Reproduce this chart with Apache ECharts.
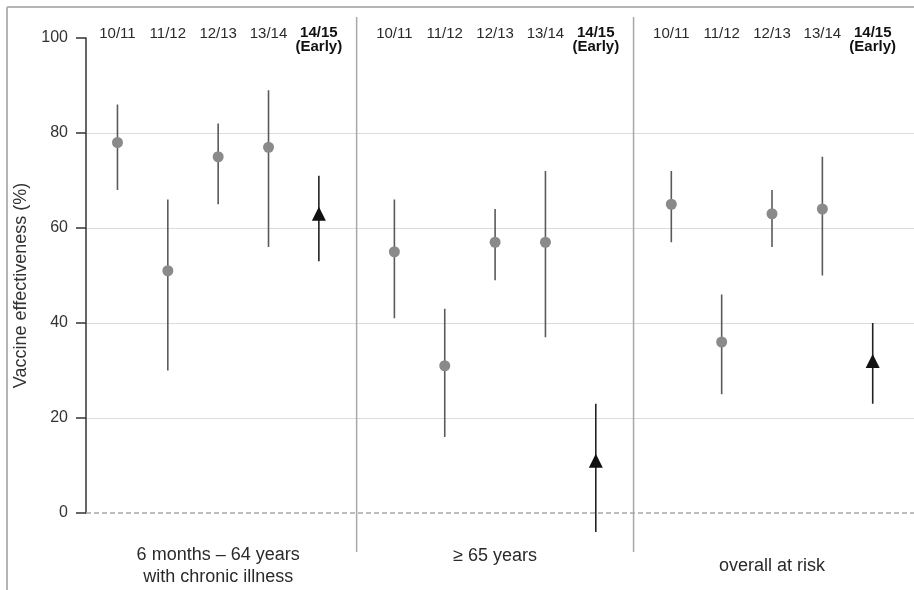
<!DOCTYPE html>
<html>
<head>
<meta charset="utf-8">
<script src="https://cdn.jsdelivr.net/npm/echarts@6/dist/echarts.min.js"></script>
<style>
html,body{margin:0;padding:0;background:#fff;}
#chart{width:914px;height:590px;}
</style>
</head>
<body>
<div id="chart"></div>
<script>
// ---- data ----
const seasons = ['10/11', '11/12', '12/13', '13/14', '14/15'];
const earlyNote = '(Early)';
const groups = ['6 months – 64 years\nwith chronic illness', '≥ 65 years', 'overall at risk'];

const veChronic = [78, 51, 75, 77, 63];
const loChronic = [68, 30, 65, 56, 53];
const hiChronic = [86, 66, 82, 89, 71];

const veElderly = [55, 31, 57, 57, 11];
const loElderly = [41, 16, 49, 37, -4];
const hiElderly = [66, 43, 64, 72, 23];

const veOverall = [65, 36, 63, 64, 32];
const loOverall = [57, 25, 56, 50, 23];
const hiOverall = [72, 46, 68, 75, 40];

const yTicks = [0, 20, 40, 60, 80, 100];

// ---- build ----
const GROUP_STEP = 5.5;
const est = [veChronic, veElderly, veOverall];
const lo = [loChronic, loElderly, loOverall];
const hi = [hiChronic, hiElderly, hiOverall];
const earlyIdx = seasons.length - 1;

const barData = [], dotData = [], triData = [];
for (let g = 0; g < groups.length; g++) {
  for (let i = 0; i < seasons.length; i++) {
    const x = g * GROUP_STEP + i;
    const early = i === earlyIdx ? 1 : 0;
    barData.push([x, lo[g][i], hi[g][i], early]);
    if (early) triData.push([x, est[g][i]]); else dotData.push([x, est[g][i]]);
  }
}
const dividerData = [];
for (let g = 1; g < groups.length; g++) {
  dividerData.push([((g - 1) * GROUP_STEP + earlyIdx + g * GROUP_STEP) / 2]);
}

function near(a, b) { return Math.abs(a - b) < 1e-6; }
function topLabel(v) {
  for (let g = 0; g < groups.length; g++)
    for (let i = 0; i < seasons.length; i++)
      if (near(v, g * GROUP_STEP + i))
        return i === earlyIdx ? '{b|' + seasons[i] + '}\n{b|' + earlyNote + '}' : '{n|' + seasons[i] + '}';
  return '';
}
function bottomLabel(v) {
  for (let g = 0; g < groups.length; g++)
    if (near(v, g * GROUP_STEP + 2)) return g === 1 ? '{up|' + groups[g] + '}' : groups[g];
  return '';
}

const FONT = '"Liberation Sans", Arial, Helvetica, sans-serif';
const xMin = -0.625, xMax = 15.82;

const chart = echarts.init(document.getElementById('chart'), null, { renderer: 'canvas' });
chart.setOption({
  animation: false,
  backgroundColor: '#fff',
  textStyle: { fontFamily: FONT },
  graphic: [
    { type: 'line', shape: { x1: 7, y1: 7, x2: 914, y2: 7 }, style: { stroke: '#b4b4b4', lineWidth: 2 }, silent: true },
    { type: 'line', shape: { x1: 7, y1: 7, x2: 7, y2: 590 }, style: { stroke: '#b4b4b4', lineWidth: 2 }, silent: true }
  ],
  grid: { left: 86, top: 38, right: 0, height: 475, containLabel: false },
  xAxis: [
    {
      type: 'value', position: 'bottom', min: xMin, max: xMax, interval: 0.125,
      axisLine: { show: false }, axisTick: { show: false }, splitLine: { show: false },
      axisLabel: {
        formatter: bottomLabel, margin: 53, verticalAlign: 'middle', showMaxLabel: false,
        fontSize: 18, lineHeight: 22, color: '#2a2a2a', fontFamily: FONT,
        rich: { up: { fontSize: 18, color: '#2a2a2a', padding: [0, 0, 20, 0], fontFamily: FONT } }
      }
    },
    {
      type: 'value', position: 'top', min: xMin, max: xMax, interval: 0.125,
      axisLine: { show: false }, axisTick: { show: false }, splitLine: { show: false },
      axisLabel: {
        formatter: topLabel, margin: 12, verticalAlign: 'top', showMaxLabel: false,
        rich: {
          n: { fontSize: 15, color: '#2a2a2a', fontFamily: FONT },
          b: { fontSize: 15, fontWeight: 'bold', color: '#111', lineHeight: 14, fontFamily: FONT }
        }
      }
    }
  ],
  yAxis: {
    type: 'value', min: yTicks[0], max: yTicks[yTicks.length - 1], interval: yTicks[1] - yTicks[0],
    name: 'Vaccine effectiveness (%)', nameLocation: 'middle', nameGap: 46,
    nameTextStyle: { fontSize: 18, color: '#333', fontFamily: FONT, padding: [0, 20, 0, 0] },
    axisLine: { show: true, onZero: false, lineStyle: { color: '#333', width: 1.5 } },
    axisTick: { show: true, length: 10, inside: false, lineStyle: { color: '#333', width: 1.5 } },
    axisLabel: { fontSize: 16, color: '#333', margin: 18, fontFamily: FONT },
    splitLine: { show: true, showMinLine: false, showMaxLine: false, lineStyle: { color: '#dcdcdc', width: 1.2 } }
  },
  series: [
    {
      type: 'custom', name: 'dividers', xAxisIndex: 0, data: dividerData, silent: true, z: 1,
      renderItem: function (params, api) {
        const x = api.value(0);
        const pTop = api.coord([x, 100]);
        const pBot = api.coord([x, 0]);
        return {
          type: 'line',
          shape: { x1: pTop[0], y1: pTop[1] - 21, x2: pBot[0], y2: pBot[1] + 39 },
          style: { stroke: '#a8a8a8', lineWidth: 1.5 }
        };
      }
    },
    {
      type: 'custom', name: 'ci', xAxisIndex: 0, data: barData, z: 3,
      encode: { x: 0, y: [1, 2] },
      renderItem: function (params, api) {
        const x = api.value(0);
        const a = api.coord([x, api.value(1)]);
        const b = api.coord([x, api.value(2)]);
        return {
          type: 'line',
          shape: { x1: a[0], y1: a[1], x2: b[0], y2: b[1] },
          style: { stroke: api.value(3) ? '#222' : '#5a5a5a', lineWidth: 1.6 }
        };
      },
      markLine: {
        silent: true, symbol: 'none', label: { show: false },
        lineStyle: { color: '#a8a8a8', type: [5, 3], width: 1.5 },
        data: [{ yAxis: 0 }]
      }
    },
    {
      type: 'scatter', name: 'estimate', xAxisIndex: 0, data: dotData, z: 4,
      symbol: 'circle', symbolSize: 11, itemStyle: { color: '#8a8a8a', opacity: 1 }
    },
    {
      type: 'scatter', name: 'early estimate', xAxisIndex: 0, data: triData, z: 4,
      symbol: 'triangle', symbolSize: 14, itemStyle: { color: '#111', opacity: 1 }
    }
  ]
});
</script>
</body>
</html>
